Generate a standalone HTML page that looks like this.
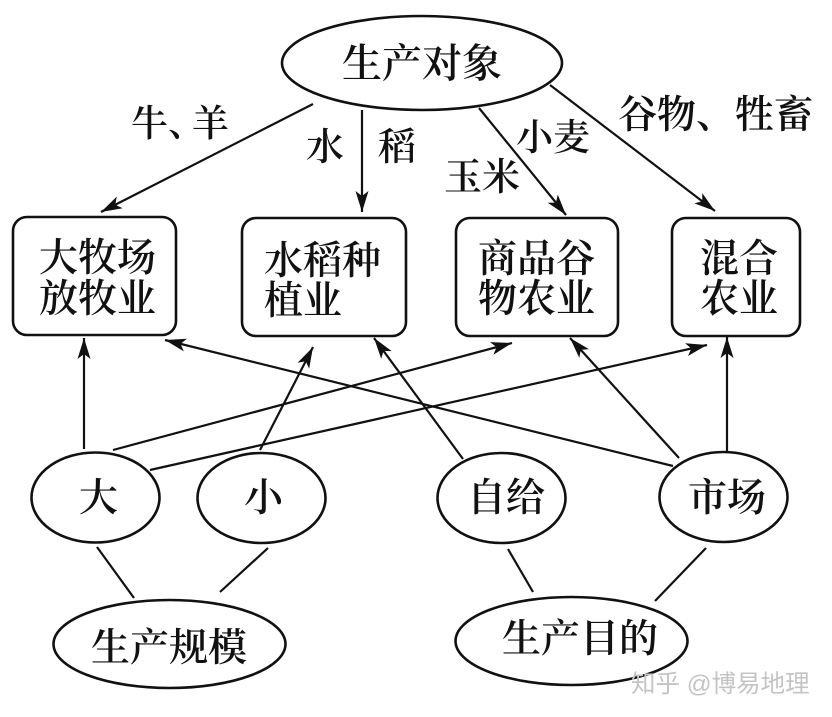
<!DOCTYPE html>
<html lang="zh"><head><meta charset="utf-8"><style>
html,body{margin:0;padding:0;background:#fff}
svg{display:block}
text{font-family:"Liberation Serif","Noto Serif CJK SC",serif;fill:#111;font-weight:600}
.s{fill:none;stroke:#111;stroke-width:2.6}
.l{stroke:#111;stroke-width:2.2}
.t{font-size:39px}
.m{font-size:38px}
</style></head><body>
<svg width="832" height="717" viewBox="0 0 832 717" xmlns="http://www.w3.org/2000/svg">
<defs><marker id="a" viewBox="0 0 22 14" refX="21" refY="7" markerWidth="22" markerHeight="14" markerUnits="userSpaceOnUse" orient="auto"><path d="M0 0.5L21 7L0 13.5L5 7Z" fill="#111"/></marker></defs>
<ellipse class="s" cx="422" cy="63" rx="140" ry="47"/>
<rect class="s" x="13" y="217" width="163" height="118" rx="14"/>
<rect class="s" x="242" y="218" width="164" height="118" rx="14"/>
<rect class="s" x="456" y="218" width="162" height="118" rx="14"/>
<rect class="s" x="672" y="218" width="128" height="118" rx="14"/>
<ellipse class="s" cx="95.500" cy="497.500" rx="64" ry="45"/>
<ellipse class="s" cx="261.500" cy="498" rx="64" ry="45"/>
<ellipse class="s" cx="501.500" cy="498" rx="64" ry="45"/>
<ellipse class="s" cx="723.500" cy="497" rx="64" ry="45"/>
<ellipse class="s" cx="169.500" cy="644" rx="116" ry="44"/>
<ellipse class="s" cx="571.500" cy="641" rx="116" ry="44"/>
<g class="l" fill="none">
<line x1="313" y1="104" x2="101" y2="212" marker-end="url(#a)"/>
<line x1="362" y1="110" x2="362" y2="212" marker-end="url(#a)"/>
<line x1="479" y1="108" x2="566" y2="215" marker-end="url(#a)"/>
<line x1="550" y1="85" x2="715" y2="211" marker-end="url(#a)"/>
<line x1="84" y1="449" x2="84" y2="338" marker-end="url(#a)"/>
<line x1="113" y1="450" x2="512" y2="343" marker-end="url(#a)"/>
<line x1="150" y1="470" x2="707" y2="345" marker-end="url(#a)"/>
<line x1="260" y1="450" x2="313" y2="347" marker-end="url(#a)"/>
<line x1="463" y1="459" x2="374" y2="338" marker-end="url(#a)"/>
<line x1="673" y1="466" x2="165" y2="340" marker-end="url(#a)"/>
<line x1="679" y1="458" x2="570" y2="338" marker-end="url(#a)"/>
<line x1="727" y1="451" x2="727" y2="337" marker-end="url(#a)"/>
<line x1="97" y1="547" x2="134" y2="598"/>
<line x1="268" y1="548" x2="220" y2="592"/>
<line x1="508" y1="549" x2="533" y2="592"/>
<line x1="706" y1="548" x2="655" y2="601"/>
</g>
<text x="342" y="77" style="font-size:40px">生产对象</text>
<text x="131" y="136" style="font-size:37px">牛</text>
<text x="168" y="136" style="font-size:37px">、</text>
<text x="192" y="136" style="font-size:37px">羊</text>
<text class="m" x="306" y="160">水</text>
<text class="m" x="378" y="160">稻</text>
<text x="516" y="150" style="font-size:37px">小麦</text>
<text class="m" x="444" y="190">玉米</text>
<text x="618" y="128" style="font-size:39px">谷物、牲畜</text>
<text class="t" x="39" y="271">大牧场</text>
<text class="t" x="39" y="312">放牧业</text>
<text class="t" x="264" y="274">水稻种</text>
<text class="t" x="264" y="314">植业</text>
<text class="t" x="478" y="272">商品谷</text>
<text class="t" x="478" y="312">物农业</text>
<text class="t" x="700" y="272">混合</text>
<text class="t" x="700" y="312">农业</text>
<text class="t" x="79" y="511">大</text>
<text class="t" x="244" y="511">小</text>
<text class="t" x="467" y="511">自给</text>
<text class="t" x="688" y="511">市场</text>
<text class="t" x="91" y="661">生产规模</text>
<text class="t" x="502" y="652">生产目的</text>
<text x="631" y="692" style='font-family:"Liberation Sans","Noto Sans CJK SC",sans-serif;font-size:24.500px;fill:#c4c4c4;font-weight:400'>知乎 @博易地理</text>
</svg>
</body></html>
